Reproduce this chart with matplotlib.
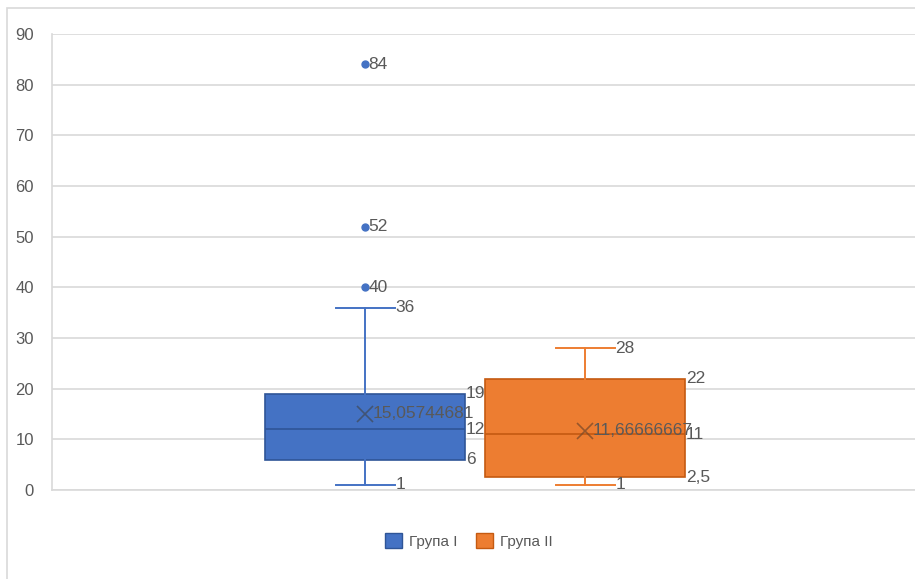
import matplotlib.pyplot as plt
from matplotlib.patches import Rectangle, Patch

# Дані для діаграми "ящик з вусами"
grupy = ["Група I", "Група II"]
minimumy = [1, 1]
kvartyl_1 = [6, 2.5]
mediany = [12, 11]
kvartyl_3 = [19, 22]
maksymumy = [36, 28]
seredni = [15.05744681, 11.66666667]
vykydy = [[40, 52, 84], []]

kolory = ["#4472C4", "#ED7D31"]
kolory_kontur = ["#2F5597", "#C55A11"]
kolir_tekstu = "#595959"
kolir_sitky = "#D9D9D9"

plt.rcParams['font.family'] = ['Liberation Sans Narrow', 'Liberation Sans', 'DejaVu Sans']


def pidpys(v):
    # десяткова кома, як у таблиці
    s = ("%g" % v) if abs(v - round(v, 1)) < 1e-9 else ("%.8f" % v)
    return s.replace('.', ',')


fig = plt.figure(figsize=(9.15, 5.79), dpi=100)
fig.patches.append(Rectangle((7 / 915, -0.01), 1.0, 1 - 8 / 579 + 0.01,
                             transform=fig.transFigure, fill=False,
                             edgecolor=kolir_sitky, linewidth=1.2))
ax = fig.add_axes([52 / 915, 1 - 490 / 579, 863 / 915, 456 / 579])

pozytsii = [1, 2]
shyryna = 200 / 220
kap = 59 / 220

for i in range(len(grupy)):
    stat = [{
        'whislo': minimumy[i], 'q1': kvartyl_1[i], 'med': mediany[i],
        'q3': kvartyl_3[i], 'whishi': maksymumy[i], 'mean': seredni[i],
        'fliers': vykydy[i],
    }]
    ax.bxp(stat, positions=[pozytsii[i]], widths=shyryna, capwidths=kap,
           patch_artist=True, showmeans=True, showfliers=True,
           boxprops=dict(facecolor=kolory[i], edgecolor=kolory_kontur[i], linewidth=1.2),
           medianprops=dict(color=kolory_kontur[i], linewidth=1.2),
           whiskerprops=dict(color=kolory[i], linewidth=1.4),
           capprops=dict(color=kolory[i], linewidth=1.4),
           meanprops=dict(marker='x', markeredgecolor='#404A5A' if i == 0 else '#7A4A2A',
                          markersize=11, markeredgewidth=1.2, alpha=0.75),
           flierprops=dict(marker='o', markerfacecolor=kolory[i], markeredgecolor=kolory[i],
                           markersize=5))

    x = pozytsii[i]
    praviy_kray = x + shyryna / 2 + 0.005
    kinets_kapa = x + kap / 2 + 0.005
    tk = dict(color=kolir_tekstu, fontsize=12.5, va='center', ha='left')
    ax.text(kinets_kapa, maksymumy[i], pidpys(maksymumy[i]), **tk)
    ax.text(kinets_kapa, minimumy[i], pidpys(minimumy[i]), **tk)
    ax.text(praviy_kray, kvartyl_3[i], pidpys(kvartyl_3[i]), **tk)
    ax.text(praviy_kray, mediany[i], pidpys(mediany[i]), **tk)
    ax.text(praviy_kray, kvartyl_1[i], pidpys(kvartyl_1[i]), **tk)
    ax.text(x + 0.035, seredni[i], pidpys(seredni[i]), **tk)
    for v in vykydy[i]:
        ax.text(x + 0.015, v, pidpys(v), **tk)

ax.set_xlim(1 - 313 / 220, 2 + 330 / 220)
ax.set_ylim(0, 90)
ax.set_yticks(range(0, 91, 10))
ax.set_xticks([])
ax.tick_params(axis='y', length=0, pad=13, labelsize=12, labelcolor=kolir_tekstu)
ax.grid(axis='y', color=kolir_sitky, linewidth=1.2)
ax.set_axisbelow(True)
for s in ['top', 'right']:
    ax.spines[s].set_visible(False)
ax.spines['left'].set_color(kolir_sitky)
ax.spines['bottom'].set_color(kolir_sitky)
ax.spines['left'].set_linewidth(1.2)
ax.spines['bottom'].set_linewidth(1.2)

ruchky = [Patch(facecolor=kolory[i], edgecolor=kolory_kontur[i], label=grupy[i])
          for i in range(len(grupy))]
fig.legend(handles=ruchky, loc='center', bbox_to_anchor=(469 / 915, 1 - 541 / 579),
           ncol=2, frameon=False, fontsize=11, labelcolor=kolir_tekstu,
           handlelength=1.1, handleheight=1.1, handletextpad=0.5, columnspacing=1.2)

fig.savefig("out.png", dpi=100)
